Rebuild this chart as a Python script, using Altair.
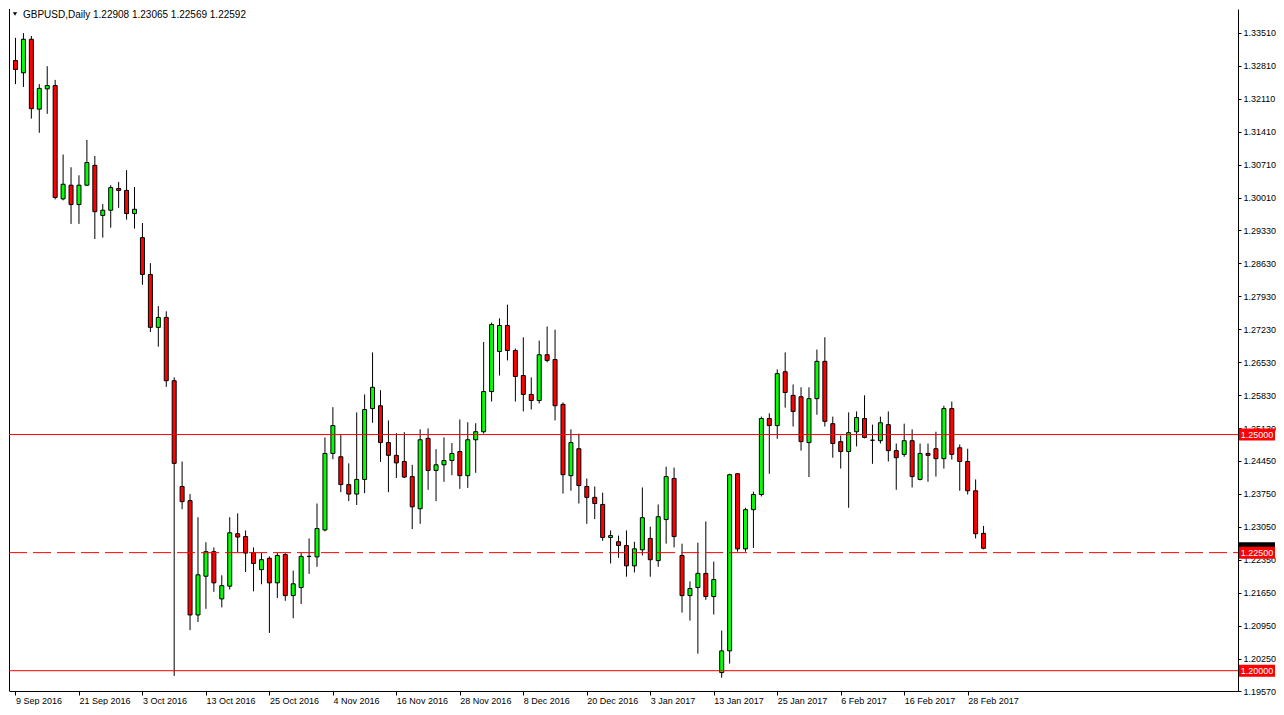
import altair as alt
import pandas as pd

# ---- data (GBPUSD daily candles) ----
opens = [1.3292, 1.3266, 1.3337, 1.3189, 1.3232, 1.3239, 1.2999, 1.3028, 1.2987, 1.3028,
         1.3070, 1.2964, 1.2975, 1.3021, 1.3017, 1.2968, 1.2917, 1.2839, 1.2727, 1.2748,
         1.2614, 1.2390, 1.2360, 1.2118, 1.2200, 1.2252, 1.2152, 1.2179, 1.2290, 1.2284,
         1.2250, 1.2214, 1.2238, 1.2186, 1.2246, 1.2159, 1.2176, 1.2242, 1.2241, 1.2298,
         1.2460, 1.2453, 1.2394, 1.2374, 1.2405, 1.2555, 1.2561, 1.2483, 1.2456, 1.2443,
         1.2411, 1.2343, 1.2492, 1.2424, 1.2436, 1.2445, 1.2464, 1.2413, 1.2489, 1.2506,
         1.2591, 1.2676, 1.2731, 1.2678, 1.2625, 1.2585, 1.2572, 1.2669, 1.2659, 1.2564,
         1.2413, 1.2470, 1.2390, 1.2367, 1.2352, 1.2282, 1.2273, 1.2265, 1.2222, 1.2256,
         1.2280, 1.2233, 1.2320, 1.2407, 1.2244, 1.2159, 1.2176, 1.2206, 1.2157, 1.1996,
         1.2042, 1.2417, 1.2258, 1.2341, 1.2373, 1.2534, 1.2519, 1.2633, 1.2583, 1.2580,
         1.2483, 1.2576, 1.2655, 1.2523, 1.2485, 1.2464, 1.2506, 1.2534, 1.2488, 1.2487,
         1.2521, 1.2466, 1.2458, 1.2487, 1.2405, 1.2460, 1.2470, 1.2449, 1.2555, 1.2472,
         1.2443, 1.2381, 1.22908]
highs = [1.3340, 1.3350, 1.3344, 1.3242, 1.3280, 1.3251, 1.3093, 1.3066, 1.3049, 1.3124,
         1.3090, 1.2988, 1.3028, 1.3035, 1.3060, 1.3024, 1.2948, 1.2863, 1.2772, 1.2761,
         1.2621, 1.2443, 1.2374, 1.2325, 1.2272, 1.2261, 1.2202, 1.2325, 1.2333, 1.2297,
         1.2261, 1.2249, 1.2242, 1.2249, 1.2249, 1.2212, 1.2249, 1.2280, 1.2354, 1.2494,
         1.2558, 1.2499, 1.2439, 1.2547, 1.2585, 1.2674, 1.2594, 1.2530, 1.2503, 1.2505,
         1.2436, 1.2511, 1.2513, 1.2469, 1.2494, 1.2482, 1.2532, 1.2526, 1.2524, 1.2696,
         1.2737, 1.2746, 1.2775, 1.2682, 1.2706, 1.2621, 1.2699, 1.2729, 1.2722, 1.2568,
         1.2511, 1.2502, 1.2407, 1.2390, 1.2377, 1.2297, 1.2286, 1.2297, 1.2273, 1.2388,
         1.2305, 1.2352, 1.2432, 1.2430, 1.2269, 1.2189, 1.2271, 1.2316, 1.2231, 1.2085,
         1.2417, 1.2418, 1.2345, 1.2379, 1.2538, 1.2545, 1.2638, 1.2674, 1.2606, 1.2600,
         1.2600, 1.2680, 1.2706, 1.2538, 1.2498, 1.2547, 1.2549, 1.2583, 1.2521, 1.2538,
         1.2549, 1.2481, 1.2523, 1.2511, 1.2481, 1.2481, 1.2506, 1.2561, 1.2570, 1.2479,
         1.2470, 1.2405, 1.23065]
lows = [1.3242, 1.3236, 1.3169, 1.3139, 1.3179, 1.2998, 1.2996, 1.2946, 1.2946, 1.3027,
        1.2914, 1.2917, 1.2938, 1.2980, 1.2955, 1.2936, 1.2817, 1.2717, 1.2686, 1.2601,
        1.1989, 1.2342, 1.2086, 1.2103, 1.2131, 1.2167, 1.2134, 1.2172, 1.2251, 1.2209,
        1.2168, 1.2183, 1.2080, 1.2154, 1.2148, 1.2111, 1.2141, 1.2205, 1.2220, 1.2295,
        1.2448, 1.2378, 1.2359, 1.2351, 1.2376, 1.2525, 1.2442, 1.2378, 1.2408, 1.2408,
        1.2300, 1.2311, 1.2383, 1.2359, 1.2400, 1.2414, 1.2385, 1.2387, 1.2419, 1.2502,
        1.2570, 1.2625, 1.2657, 1.2570, 1.2549, 1.2553, 1.2566, 1.2653, 1.2530, 1.2375,
        1.2381, 1.2354, 1.2311, 1.2321, 1.2275, 1.2227, 1.2239, 1.2199, 1.2208, 1.2244,
        1.2199, 1.2220, 1.2269, 1.2261, 1.2123, 1.2106, 1.2036, 1.2150, 1.2119, 1.1985,
        1.2015, 1.2252, 1.2252, 1.2260, 1.2369, 1.2417, 1.2491, 1.2557, 1.2517, 1.2466,
        1.2410, 1.2542, 1.2517, 1.2451, 1.2428, 1.2345, 1.2475, 1.2492, 1.2438, 1.2481,
        1.2443, 1.2383, 1.2453, 1.2388, 1.2403, 1.2400, 1.2411, 1.2428, 1.2447, 1.2381,
        1.2373, 1.2280, 1.22569]
closes = [1.3273, 1.3337, 1.3190, 1.3233, 1.3239, 1.3002, 1.3030, 1.2987, 1.3028, 1.3076,
          1.2972, 1.2975, 1.3023, 1.3017, 1.2968, 1.2977, 1.2839, 1.2727, 1.2748, 1.2614,
          1.2439, 1.2358, 1.2118, 1.2203, 1.2252, 1.2186, 1.2180, 1.2292, 1.2283, 1.2249,
          1.2227, 1.2235, 1.2186, 1.2244, 1.2159, 1.2184, 1.2242, 1.2242, 1.2301, 1.2460,
          1.2519, 1.2394, 1.2374, 1.2405, 1.2553, 1.2600, 1.2483, 1.2456, 1.2440, 1.2410,
          1.2347, 1.2489, 1.2424, 1.2436, 1.2445, 1.2460, 1.2413, 1.2489, 1.2506, 1.2591,
          1.2733, 1.2731, 1.2678, 1.2623, 1.2585, 1.2572, 1.2669, 1.2657, 1.2561, 1.2415,
          1.2483, 1.2392, 1.2367, 1.2354, 1.2282, 1.2286, 1.2265, 1.2222, 1.2258, 1.2324,
          1.2235, 1.2326, 1.2411, 1.2284, 1.2159, 1.2174, 1.2206, 1.2157, 1.2193, 1.2042,
          1.2415, 1.2258, 1.2341, 1.2373, 1.2534, 1.2519, 1.2629, 1.2589, 1.2549, 1.2485,
          1.2576, 1.2655, 1.2528, 1.2481, 1.2464, 1.2504, 1.2536, 1.2494, 1.2488, 1.2525,
          1.2466, 1.2451, 1.2487, 1.2411, 1.2460, 1.2456, 1.2449, 1.2555, 1.2458, 1.2443,
          1.2381, 1.2290, 1.22592]

date_labels = ["9 Sep 2016", "21 Sep 2016", "3 Oct 2016", "13 Oct 2016", "25 Oct 2016",
               "4 Nov 2016", "16 Nov 2016", "28 Nov 2016", "8 Dec 2016", "20 Dec 2016",
               "3 Jan 2017", "13 Jan 2017", "25 Jan 2017", "6 Feb 2017", "16 Feb 2017",
               "28 Feb 2017"]
date_label_bars = [0, 8, 16, 24, 32, 40, 48, 56, 64, 72, 80, 88, 96, 104, 112, 120]

price_ticks = [1.33510, 1.32810, 1.32110, 1.31410, 1.30710, 1.30010, 1.29330, 1.28630,
               1.27930, 1.27230, 1.26530, 1.25830, 1.25130, 1.24450, 1.23750, 1.23050,
               1.22350, 1.21650, 1.20950, 1.20250, 1.19570]

level_prices = [1.25, 1.225, 1.20]
level_dashed = [False, True, False]

symbol_title = "GBPUSD,Daily  1.22908 1.23065 1.22569 1.22592"
last_price = 1.22592

# ---- tables ----
n = len(opens)
candles = pd.DataFrame({
    "bar": list(range(n)),
    "open": opens, "high": highs, "low": lows, "close": closes,
})
candles["dir"] = ["up" if c > o else ("down" if c < o else "flat")
                  for o, c in zip(opens, closes)]

levels = pd.DataFrame({"price": level_prices, "dashed": level_dashed,
                       "label": [f"{p:.5f}" for p in level_prices]})
last_df = pd.DataFrame({"price": [last_price]})
title_df = pd.DataFrame({"t": [symbol_title]})

W, H = 1229, 682
FONT = "Liberation Sans"
BOX_L, BOX_R = W + 1, W + 37

# 8 px per bar, first bar centred 1.5 px inside the frame
xscale = alt.Scale(domain=[-1.5 / 8, (W - 1.5) / 8], nice=False, zero=False)
yscale = alt.Scale(domain=[1.1957, 1.34011], nice=False, zero=False)

label_arr = "[" + ",".join(f"'{s}'" for s in date_labels) + "]"

x_axis = alt.Axis(values=date_label_bars, labelExpr=f"{label_arr}[round(datum.value/8)]",
                  orient="bottom", labelAlign="left", labelBaseline="top",
                  labelPadding=1, tickSize=4, labelOverlap=False, labelFlush=False,
                  labelBound=False, grid=False, title=None,
                  domainColor="black", tickColor="black", labelColor="black",
                  labelFont=FONT, labelFontSize=9)
y_axis = alt.Axis(values=price_ticks, format=".5f", orient="right", tickSize=3,
                  labelPadding=2, grid=False, title=None, labelOverlap=False,
                  labelFlush=False, labelBound=False, domainColor="black",
                  tickColor="black", labelColor="black", labelFont=FONT, labelFontSize=9)

X = alt.X("bar:Q", scale=xscale, axis=x_axis)


def Y(field):
    return alt.Y(field, scale=yscale, axis=y_axis)


base = alt.Chart(candles)

wicks = base.mark_rule(color="black", strokeWidth=1, clip=True).encode(
    x=X, y=Y("low:Q"), y2="high:Q",
)

bodies = base.mark_bar(width=4, stroke="black", strokeWidth=1, clip=True).encode(
    x=X, y=Y("open:Q"), y2="close:Q",
    fill=alt.Fill("dir:N", scale=alt.Scale(domain=["up", "down", "flat"],
                                           range=["#00FF00", "#FF0000", "#000000"]),
                  legend=None),
)

left_frame = alt.Chart(title_df).mark_rule(color="black", strokeWidth=1).encode(
    x=alt.value(0.5), y=alt.value(0), y2=alt.value(H))

solid_lines = alt.Chart(levels).transform_filter("!datum.dashed").mark_rule(
    color="#FF0000", strokeWidth=1).encode(
    x=alt.value(0), x2=alt.value(W), y=Y("price:Q"),
)
dashed_lines = alt.Chart(levels).transform_filter("datum.dashed").mark_rule(
    color="#FF0000", strokeWidth=1, strokeDash=[18, 6]).encode(
    x=alt.value(0), x2=alt.value(W), y=Y("price:Q"),
)

last_box = alt.Chart(last_df).mark_rect(color="black", yOffset=-6, y2Offset=6).encode(
    x=alt.value(BOX_L), x2=alt.value(BOX_R), y=Y("price:Q"), y2="price:Q",
)
level_box = alt.Chart(levels).mark_rect(color="#FF0000", yOffset=-6, y2Offset=6).encode(
    x=alt.value(BOX_L), x2=alt.value(BOX_R), y=Y("price:Q"), y2="price:Q",
)
level_text = alt.Chart(levels).mark_text(color="white", font=FONT, fontSize=9,
                                         align="center", baseline="middle").encode(
    x=alt.value((BOX_L + BOX_R) / 2), y=Y("price:Q"), text="label:N",
)

tri = alt.Chart(title_df).mark_point(shape="triangle-down", filled=True, color="black",
                                     size=18, opacity=1).encode(
    x=alt.value(6), y=alt.value(5))
title_text = alt.Chart(title_df).mark_text(align="left", baseline="middle", font=FONT,
                                           fontSize=10, color="black").encode(
    x=alt.value(14), y=alt.value(6), text="t:N")

chart = alt.layer(
    wicks, bodies, left_frame, solid_lines, dashed_lines,
    last_box, level_box, level_text, tri, title_text,
).properties(
    width=W, height=H,
    padding={"left": 0, "top": 0, "right": 0, "bottom": 0},
    background="white",
).configure_view(stroke=None)

chart.save("out.html", embed_options={"renderer": "svg", "actions": False})
